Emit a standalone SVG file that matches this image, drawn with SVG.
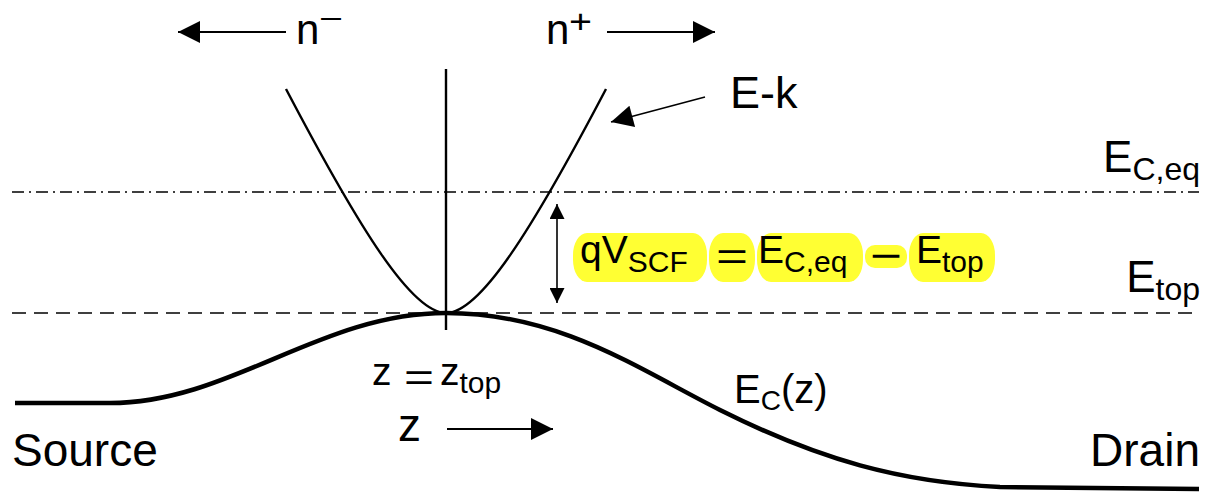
<svg xmlns="http://www.w3.org/2000/svg" width="1209" height="493" viewBox="0 0 1209 493">
<defs>
<style>
text{font-family:"Liberation Sans",Arial,sans-serif;fill:#000}
.lbl{font-size:45px}
.m{font-size:39px}
.sub{font-size:30px}
.hl{fill:#ffff33}
.thin{fill:none;stroke:#000;stroke-width:2.4}
</style>
<marker id="ah" viewBox="0 0 10 10" refX="10" refY="5" markerWidth="27" markerHeight="22" markerUnits="userSpaceOnUse" orient="auto">
<path d="M0,0 L10,5 L0,10 z" fill="#000"/>
</marker>
<marker id="ahs" viewBox="0 0 10 10" refX="10" refY="5" markerWidth="15" markerHeight="15" markerUnits="userSpaceOnUse" orient="auto-start-reverse">
<path d="M0,0 L10,5 L0,10 z" fill="#000"/>
</marker>
</defs>
<rect width="1209" height="493" fill="#fff"/>

<g id="levels">
<line x1="12" y1="192" x2="1199" y2="192" stroke="#000" stroke-width="1.6" stroke-dasharray="12,5,2,5"/>
<line x1="12" y1="313" x2="1199" y2="313" stroke="#000" stroke-width="1.6" stroke-dasharray="14,8"/>
</g>

<g id="ek-parabola">
<line x1="446" y1="69" x2="446" y2="330" class="thin"/>
<path d="M286,89 C360,230 412,313 446,313 C480,313 532,230 606,89" class="thin"/>
</g>

<g id="ec-curve">
<path d="M15,403 L110,403 C230,403 320,313 446,313 C560,313 640,370 720,410 C820,460 900,482 1000,487 L1199,489" fill="none" stroke="#000" stroke-width="4.5"/>
</g>

<g id="connectors">
<line x1="286" y1="32" x2="178" y2="32" stroke="#000" stroke-width="2" marker-end="url(#ah)"/>
<line x1="607" y1="32" x2="715" y2="32" stroke="#000" stroke-width="2" marker-end="url(#ah)"/>
<line x1="705" y1="97" x2="611" y2="122" stroke="#000" stroke-width="1.6" marker-end="url(#ah)"/>
<line x1="557" y1="204" x2="557" y2="303" stroke="#000" stroke-width="1.6" marker-start="url(#ahs)" marker-end="url(#ahs)"/>
<line x1="447" y1="429" x2="553" y2="429" stroke="#000" stroke-width="2" marker-end="url(#ah)"/>
</g>

<g id="label-nminus">
<text x="296" y="44" style="font-size:42px">n</text>
<text x="319" y="29" style="font-size:30px" textLength="24" lengthAdjust="spacingAndGlyphs">−</text>
</g>
<g id="label-nplus">
<text x="546" y="44" style="font-size:42px">n</text>
<text x="569" y="33" style="font-size:33px" textLength="23" lengthAdjust="spacingAndGlyphs">+</text>
</g>

<g id="label-ek">
<text class="lbl" x="730" y="108">E-k</text>
</g>

<g id="label-eceq">
<text x="1200" y="172" text-anchor="end" style="font-size:44px">E<tspan dy="8" style="font-size:32px">C,eq</tspan></text>
</g>
<g id="label-etop">
<text x="1200" y="292" text-anchor="end" style="font-size:44px">E<tspan dy="8" style="font-size:32px">top</tspan></text>
</g>

<g id="equation">
<rect class="hl" x="573" y="233" width="134" height="49" rx="14" ry="22"/>
<rect class="hl" x="709" y="233" width="46" height="49" rx="14" ry="22"/>
<rect class="hl" x="757" y="233" width="106" height="49" rx="14" ry="22"/>
<rect class="hl" x="865" y="245" width="42" height="23" rx="10" ry="10"/>
<rect class="hl" x="909" y="233" width="86" height="49" rx="14" ry="22"/>
<text class="m" x="580" y="263">qV<tspan class="sub" dy="9">SCF</tspan></text>
<text class="m" x="716" y="270" textLength="32" lengthAdjust="spacingAndGlyphs">=</text>
<text class="m" x="758" y="263">E<tspan class="sub" dy="9">C,eq</tspan></text>
<text class="m" x="870" y="269" textLength="32" lengthAdjust="spacingAndGlyphs">−</text>
<text class="m" x="916" y="263">E<tspan class="sub" dy="9">top</tspan></text>
</g>

<g id="label-ztop">
<text class="m" x="372" y="385">z</text>
<text class="m" x="404" y="391" textLength="30" lengthAdjust="spacingAndGlyphs">=</text>
<text class="m" x="440" y="385">z<tspan class="sub" dy="8">top</tspan></text>
</g>

<g id="label-z">
<text x="398" y="441" style="font-size:46px">z</text>
</g>

<g id="label-ecz">
<text x="734" y="403" style="font-size:40px">E<tspan dy="7" style="font-size:28px">C</tspan><tspan dy="-7">(z)</tspan></text>
</g>

<g id="label-source">
<text x="12" y="466" style="font-size:46px">Source</text>
</g>
<g id="label-drain">
<text x="1200" y="466" text-anchor="end" style="font-size:46px">Drain</text>
</g>
</svg>
